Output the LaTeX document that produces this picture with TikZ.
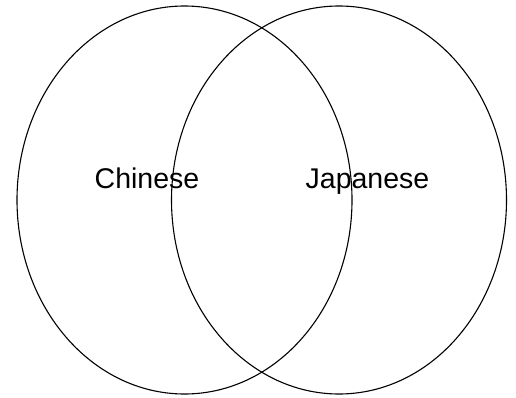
\documentclass[tikz,border=0pt]{standalone}
\usepackage{fontspec}
\setmainfont{Liberation Sans}
\usepackage{tikz}

\begin{document}
\begin{tikzpicture}[x=1pt,y=1pt,every node/.style={font=\fontsize{28.5}{32}\selectfont}]
	\useasboundingbox (0,0) rectangle (516,397);
	\foreach \cx in {184.5, 339} {
		\draw[line width=1.1pt] (\cx,197) ellipse [x radius=167.5, y radius=194];
	}
	\node[anchor=base] (chinese) at (147,209) {Chinese};
	\node[anchor=base] (japanese) at (367.5,209) {Japanese};
\end{tikzpicture}
\end{document}
